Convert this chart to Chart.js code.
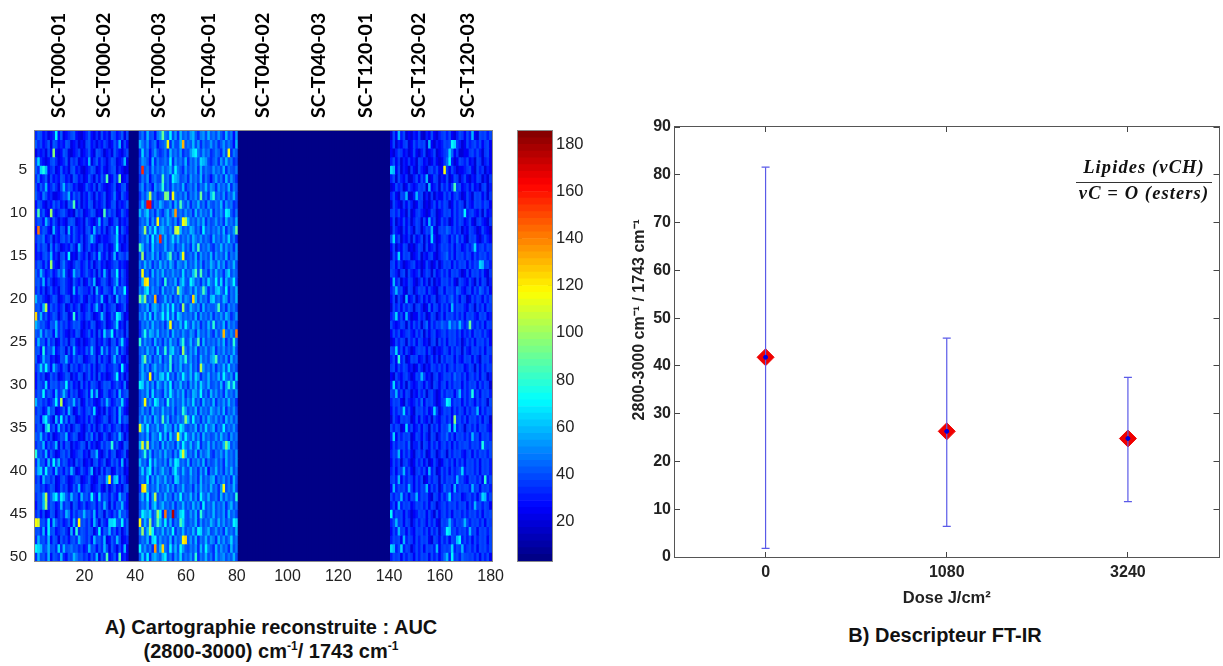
<!DOCTYPE html>
<html>
<head>
<meta charset="utf-8">
<title>AUC map and FT-IR descriptor</title>
<script src="https://cdn.jsdelivr.net/npm/chart.js@4"></script>
<style>
html, body { margin: 0; padding: 0; background: #fff; }
body { width: 1223px; height: 666px; position: relative; overflow: hidden; font-family: "Liberation Sans", Arial, sans-serif; color: #111; }
canvas { position: absolute; }
#mapChart, #barChart { filter: blur(0.45px); }
.caption { position: absolute; font-weight: bold; font-size: 20px; line-height: 24px; text-align: center; white-space: nowrap; }
.caption sup { font-size: 12px; line-height: 0; }
.formula { position: absolute; left: 1076px; top: 156px; width: 136px; font: italic bold 18.5px "Liberation Serif", serif; letter-spacing: 1.1px; line-height: 22px; text-align: center; white-space: nowrap; }
.formula div:first-child { border-bottom: 1.5px solid #333; padding-bottom: 4px; margin-bottom: -1px; }
</style>
</head>
<body>
<canvas id="mapChart" style="left:0;top:0" width="514" height="600"></canvas>
<canvas id="barChart" style="left:500px;top:0" width="90" height="600"></canvas>
<canvas id="doseChart" style="left:630px;top:0" width="598" height="608"></canvas>
<div class="caption" style="left:71px;top:615px;width:400px">A) Cartographie reconstruite : AUC<br>(2800-3000) cm<sup>-1</sup>/ 1743 cm<sup>-1</sup></div>
<div class="caption" style="left:745px;top:623px;width:400px">B) Descripteur FT-IR</div>
<div class="formula"><div>Lipides (vCH)</div><div>vC = O (esters)</div></div>
<script>
// spectra names on top of the map, and the column each one is written over
const sampleNames = ['SC-T000-01', 'SC-T000-02', 'SC-T000-03', 'SC-T040-01', 'SC-T040-02', 'SC-T040-03', 'SC-T120-01', 'SC-T120-02', 'SC-T120-03'];
const sampleCols = [9.6, 27.3, 49, 68.7, 90, 112, 130.5, 151.4, 170.7];
const colTicks = [20, 40, 60, 80, 100, 120, 140, 160, 180];
const rowTicks = [5, 10, 15, 20, 25, 30, 35, 40, 45, 50];
const barTicks = [20, 40, 60, 80, 100, 120, 140, 160, 180];
const valueMin = 3.3, valueMax = 185.5;
const emptyValue = 4; // dark columns of the map

// map values, one char per column, char = base36 digit x 5
// columns 1-37
const blockA = [
'8a978678e7 a6789a7657 8a76869786 a978a69','a8978a6a97 87a9678576 9a78687986 7a8c697','6878697j76 7a96578967 8a76a98578 6a87689','9d87679a86 78a6989678 7c68a79868 a9678c6','a8dfc78967 a7869a7865 78a9679768 9a68756',
'8b78a69787 a9786a9786 7a8697a8h6 7a8i678','97a8c78a86 9c8a978667 a8796a8767 8a679a6','a87b978667 8a9c7a8968 7a86978a67 8b76a87','7a97687a89 786a9h7968 7a96878a67 9a6878a','8h8a76k878 9a8675a896 78a9676h8a 8967a87',
'8a97c97a86 8769a96786 a8768c7a96 79a6878','7s8a976c87 a96c7a8786 9a7c8a7968 a8e6a87','8a9b78a687 9a8a7a8796 8aca768778 9ad7868','7a8a96b7a8 6787a86c96 8a7869a786 7ae8678','7879a8c786 9a7e676a87 968a7c8796 8c7a98a',
'8a97a7k876 9b8768a978 a7968a7867 89a7876','a8c978a78b 9c867c9a78 a8796a7c86 a9e7a86','9a8c7a8678 9a876a8796 7a8c679a86 8ac7986','8a7968a786 9a876c7a98 87a6c87a98 7c8a9e7','c9a8768a96 78a96878a7 6987a8c76a 86c8a97',
'9a8cl7a897 8a67978a67 8a79c86a78 9a678a6','p9c8a78a96 8a967g7a87 9a8678c967 a8ec967','cb9a87a9c8 a8978a9a76 87a9678a67 8ad7869','a9c8b9a7c8 a87687a967 8a796a7d9a e7a8969','8c9a7b8967 a8969a7686 78a9687a86 9a7ad87',
'9a7f8a9c78 a96a7c8787 a8c967c8b7 a9c7a86','a78c9a7867 a9c87a8a96 789a6a7986 9c8a768','8ad9ea7ca8 7a96a8978a 8a7968a978 8a97e87','7a8967a896 78a9687a96 8a796a7867 8ae7968','7a98d7a9a8 a9e8a786a7 97a9868a9a 78a87b6',
'8a9e8a97c8 9ca7a89678 a7d8c67a97 8a7c89a','c9a8978ae8 l78a9c8a67 a89767a8c9 78a9d87','8a978c9a67 8a7c967a87 9a8d7686a7 8a7c976','9a7cea86c8 e8b7a96787 97a8678a96 8a7c8a9','8a96cg8a7c 8a7968a976 8a7968a78a 78a9687',
'a9c8a79678 a9c78a9676 a8b7967a86 8a8c968','8a9c7a89c6 a7a96878a9 6a7867a8a9 g8a76a9','g9a8c7a867 9a8a6789a7 86a9c768a7 9a678a6','8c9a7c8e9c 8a9786a896 7869a78a67 a8a7c68','9cd8e9a7c8 97a8c967a8 79c686a7a9 67a8967',
'8a7c9a8a67 9a8678a967 8a767a98cn 8cd7a86','9a8978a967 a8967a8c78 a9678a7696 8a7869a','8a9cl8ace9 eca8c9a7c9 a8e97d8a97 a87c9a7','7a9ck8a978 c8a96a978a 789a7a8c96 a7a9c87','8a7967a968 a8cb7a8a9c 9a8c7a96a8 7a8c9a8',
'nm9a8e7ca8 978a7c8o9a 8a7c96a87d dea9e8a','9a8c7e9a78 9a86c7g8a9 8a968e7a9c 8a7968a','8c9a8c7a96 a8979a8ca9 8a7c9a8c67 a8c9678','edc9ac9a8d 8c9ab9a897 8c9a7a8c96 a8697c6','8c9a8c7a98 c87a9cb9a8 97a8c6a8h7 8a7h786'
];
// columns 42-80
const blockB = [
'8a7c896ab ia9e8b7c9a 8bc97ab8c9 a8b97c8a6b','ca8b79a68 9an7b88cq9 a9c8b7a89b 8a79b8a96c','7d8a69b87 8a7c9a8b79 8bdea8b9a7 8a97b8n7a9','8ba96c7a8 9a8e7b9a8c 7a9b8dcb87 9a7b8c9a78','8v9a7b8a9 b9ac8ea97b 8a9b7c8a98 b9a8c7a98a',
'7a8b69a88 h9a7ecb89a 7b9a8c7a86 9b8a7c8b97','9b7a86b9a g8a7b9a8c7 9a8b7a9c8b a7b9a8c7a9','7a8bl9a78 9ji7na9a8b 7a9b8i8a7c g9a8b7a9c8','8c9ww7a9c a89b7c9ha8 b7a9c8a7b9 8a9c7b9a78','c9bd8a7b9 7ac8br9a8b 9a7c8b9a8c 7a9b8ed97a',
'8a9c7b8n9 b9ca8b7anl c9a8b9c7a8 9b8a7c9a8c','9ak8c9e8b ca9b8lmc9a 9cb8a7e9a8 a9b8c7a9bi','8a9c7e9bv 9c8ad9c8a9 b8ca9b8a97 c9a8b9d8a7','hc8a7d9a8 9c8ab7a9c8 a7c9h8a9b8 7a9c8b9a7b','8k7a9c8b7 a9ch8a7bn8 9a8c7b9a8c 7b9a8c7a9b',
'a8c9b7a8c 9b8ca7ba9c 8a9c8b7a9c a8c9b7a9c8','8n9a7c8b9 c8a9b9a8d8 a9ch8h9a7b 8c9a7bd8a9','8cpo9a8b9 7g8a9c7bd9 8ec9a7b8da 9e8d7c9ae8','a9ce8b9a7 c8a9b8kca8 9b8c9ahb7a 8cda8e7a9c','icj8a9q78 9c8b7a8c8b a8pc8b9a7c d9a8cb7a9c',
'8a9c7bca8 c9d8e8a7k9 8ca9b7c8a9 9ah8a7b9a8','a9c8d7c9a e9e8c7db9a 9a8c7b9a8b 7a9b8ca79b','7a9b8c9a8 a7bn8a9c8e a8c9b7a8c9 g8a9c7b9a8','7af9cb9c8 a9b7c9a8b9 8ba7c9a8b9 7b8aqa9b9s','g8b9a7c8a 7b8c9a7bg8 9c8ah7c8a9 a8b9c7a8g9',
'9a8c9a7d8 9g8cd9a7ka 8b9c7a9b8a c7a9b8a9c8','8ci9b7a9c 7a9g8a9cag 9b8a7c9a8b ch9a8b7c9a','9c8b7ac9a 8b9g7a9c8a 9c8a7lb9a8 b7a9c8d9a8','9ca8n7b9c d9e8a7b9ea 9c8db7a9c8 a9c8ea9b7d','ed9c8b7ca 8c9e7a9c8a 7b9c8da9c8 9a8c7bgaf9',
'8a9c7d8a9 7c9ea8b9c7 a8cb9e8a7c 9b8a7c9a8b','8an9b8ec9 a7f9b8a9c8 b9d8a7c9a8 c7a9b8c9a7','9b8a7c9a8 c9a8b7a9gb 8a9c7b9a8c a9b8c7a9b8','a8c9b7ca8 h9c7a8b9aj c8e9a7b8ca 9b8a7c9b8a','mc9e8a9c8 9dab7c8ec9 8a9c7b8d9a c7a9e8a9b8',
'9a8c7ba9e 8c7d9anc9e a9c8b7c9a8 9b8c9a7b9a','cmal8b9a7 c8b9a7c8ea 9c8ad7a9c8 b8a9cjd8a9','9ag8c7a9b 8c9a7b8emc 9a8c7b9ac8 7a9b8c9a8b','c9a7e8c9a 8b7c9ed9a8 c7a9b8c7a8 9b8a7c9a8b','9d8ce7b8a c9a7bea8c9 8c9a7b8c6a 9c8a7b9c8a',
'9a8e7b8ca 9c8a7dc8a9 8b9a7c8a9b c7a9b8a7c9','7pob8a9c8 a9c8b7a9c8 9a7b8c9a8c 9a7bn8a9c8','9c8e7bl8a 8c9a7b9e8a 9c8b7ea9c8 9a7c8b9a8g','8a9c7bd8a c9a8b7a9c8 a8c9b7e8a9 c8a9b7ac8a','9ecbd8ake 7s9az8ade9 8b9c7ga8a9 c8a9b7c9a8',
'n8c9j8ahc 9e8c7a9hd9 8a9c7b8a9c a8c9b8a9ed','ak9cke8a9 c8b9e7a9c8 a9c8ed9ac8 9b8a7c9a8c','8a9c7de8b 9a8c7b9aop 9b8c7a9c8b a7c9b8ad9a','e9b8a7r9c pa8e9c8eb9 8a9b7c8ea9 7c8b9a7c8a','9d8e7bca9 ce8a7b9d8a 9b8g7a9c8a 7c9ab8a9c8'
];
// columns 141-180
const blockC = [
'6a7c8a6768 7a6587a768 9a8a768a97 a8c76a9a8a','7a6879a67a 8a9a6c7687 8a9aed9867 a89a8a79a7','768a97867a 768a678a67 89adb79667 79a8a869a7','8a79687978 6a97867976 79be867a98 a786a96897','dc7a687597 6a8769a8a7 7n97a86778 9a76a89687',
'8a6a879668 a7a8c67a96 87a67a968a 7687a96869','67a8967a87 8a9a6c7896 a8a7ah9a78 97a7869a68','8a76a9c668 c9a6869687 7a8a79a867 a86a9a7969','6a87697a86 7a96768a7a 8a967a8a96 a87a9a8a97','9a8a786a67 9a8767a967 8a9a7a8a9e 89a8796a78',
'7a687a7968 a96a7c8a67 a8967a8a97 8a769a8769','6a87697a86 a968a9c769 a9ba8a8968 7a9867a876','ad8a68796a 78a697d867 9a97a8b8a7 6a9a768a87','7a687a9676 8a96a78968 a9a8a7a978 a8ad89a8a9','6a8d7a9a67 8a6879a768 9ab8a7a9a8 a97a8a9a89',
'9a7a86789a 7867a86796 8a9a7a8a9a 7a8a9dc9a8','a9869a6a87 8a68a96a78 a8a7a9a867 a7a9a8a769','7c8a687a97 68a7969687 a9a8a76a98 7a86a7a968','8ac9a76a96 8a9a7a8769 a7a9a8ba87 9a7a8ba8a7','7a6a86c78a 68a7979a68 9a8ab8a7a9 67a8a97a8a',
'6a8a7a8a96 9a867b7a97 a8a7c8a9a8 7a96a8a7a9','8ad8a7c867 7a8967a968 a7a9a8a8a7 a9a87a9a78','a878a96a7a 8a69b7a8a9 ba9cab9ca8 ai98a8a7a9','7a8a789a87 a8a6979a78 9a8a9a8a79 8a7a9a8a87','67a8a96a8a 7a97869a6a 8a7a9a8968 a8a7a9a8a7',
'a9d8a7a867 9a9a7a8687 8a97a8a96a 87a9a8a7a9','8a7g8a67a9 a78968a796 a8a9a7a87a 9a7a86a9a8','9a7a8a9786 7a8687a98a 8a79a8a9a7 8a96a7a8a9','76a879a867 a9ca7869a7 8a9a8b9a8a 79a8a7a968','8d8a796a87 8a97a86a97 9a7a8a9a7a 8a9a7a8a96',
'a9c8a7a968 7a8a69a867 a8a9a7ac8a 8af8a7a9a8','8a9a76a878 a8b7a9a867 9aed8a9a7a 8a97a8a96a','7a8a9d8a76 a9a8a78d96 8a9a7a8a97 a8a9c7a8a9','6a87a9a967 a7a8796a87 9a8a7j9a8a 7a9a8a7a96','a8a967d8a7 8a7a96a8a7 a9ac7d8a96 9a8a7a9a87',
'8d7a8a9a67 a97a86a968 a9b8a7a9a8 a8c9a7a9a8','7a8a9a8b68 8a6a97a8a7 9a8a7a8a9a a8a9a8fa9a','8a9c7a8a76 9a8a67a968 a96a8a9a87 9a7a8a9a8a','7a8a69a867 a8a7967a86 79a8a7a8a7 a9a8a7a9a8','8a7a9c8a76 9a8a7c8a67 a8a7a89ad8 a9a8a7a9a8',
'9a8c7a8a97 a8a67a8a96 a8a9a8c9a8 7a9a8a7g8a','7c8a9a8c97 a8a9c7a8a6 8b9a7c8a9a a8c9a7a9a8','a8a9c8a7a9 c8a9a76a97 a8ad8a9a78 9a8a7adc8a','8a7c8a9a78 a9a8a7a968 9a8a9a8a9a 7a8c9a8a97','e8a9a7a867 8a9a7a86a7 9a8a7a9a8a 8a9a8a7a9a',
'8ac9a7a968 a8a97a8a76 a9aca8a9ac a8a9a8a7a9','7a8c9a7a87 a9a8a7a8a6 9aed9a8a9a 8c9a7a9a8a','8a9a7c8a97 a8a9a76a97 a8a7a9ce8a 8a7a8a9a7a','dc8ad8a968 a8a7a9a8c7 9a9ad8a9c8 9a8a7a9a8a','8a9a7a8a97 a8a9a7a8a7 9bc8e9a8ba a9a8a7a8a7'
];
// background level of each block sits lower than the chars above, hot spots do not move
const baselineA = 7, baselineB = 2, baselineC = 10;

// right panel
const doses = ['0', '1080', '3240'];
const doseMean = [41.8, 26.3, 24.8];
const doseLow = [1.8, 6.4, 11.6];
const doseHigh = [81.6, 45.8, 37.6];
const doseTicks = [0, 10, 20, 30, 40, 50, 60, 70, 80, 90];

function jet(v) {
  var t = (v - valueMin) / (valueMax - valueMin);
  t = Math.max(0, Math.min(0.9999, t));
  t = (Math.floor(t * 64) + 0.5) / 64; // 64 colour levels like the matlab colormap
  var ch = function (o) { return Math.round(255 * Math.max(0, Math.min(1, 1.5 - Math.abs(4 * t - o)))); };
  return 'rgb(' + ch(3) + ',' + ch(2) + ',' + ch(1) + ')';
}

function decode(str, baseline) {
  return str.replace(/ /g, '').split('').map(function (c) {
    var v = parseInt(c, 36) * 5;
    return v <= 55 ? v - baseline : v;
  });
}
function fill(n) {
  var out = [];
  for (var i = 0; i < n; i++) out.push(emptyValue);
  return out;
}

const colLabels = [];
for (var c = 1; c <= 180; c++) colLabels.push(String(c));

// one floating bar dataset per row of the map
const mapDatasets = blockA.map(function (_, r) {
  var values = decode(blockA[r], baselineA).concat(fill(4), decode(blockB[r], baselineB), fill(60), decode(blockC[r], baselineC));
  var row = r + 1;
  return {
    data: values.map(function () { return [row - 0.5, row + 0.5]; }),
    backgroundColor: values.map(jet),
    borderWidth: 0
  };
});

function setTicks(list) {
  return function (scale) { scale.ticks = list.map(function (v) { return { value: v }; }); };
}

const frame = {
  id: 'frame',
  beforeDatasetsDraw: function (chart, args, opts) {
    if (!opts.back) return;
    var a = chart.chartArea;
    chart.ctx.fillStyle = opts.back;
    chart.ctx.fillRect(a.left, a.top, a.width, a.height);
  },
  afterDraw: function (chart, args, opts) {
    var a = chart.chartArea, ctx = chart.ctx;
    ctx.save();
    ctx.strokeStyle = opts.color;
    ctx.lineWidth = 1;
    ctx.strokeRect(Math.round(a.left) - 0.5, Math.round(a.top) - 0.5, Math.round(a.width) + 1, Math.round(a.height) + 1);
    ctx.restore();
  }
};

Chart.defaults.font.family = '"Liberation Sans", Arial, sans-serif';
Chart.defaults.color = '#222';
Chart.defaults.animation = false;
Chart.defaults.responsive = false;
Chart.defaults.events = [];
Chart.defaults.plugins.legend.display = false;
Chart.defaults.plugins.tooltip.enabled = false;

new Chart(document.getElementById('mapChart'), {
  type: 'bar',
  data: { labels: colLabels, datasets: mapDatasets },
  plugins: [frame],
  options: {
    plugins: { frame: { color: '#8a8a8a', back: jet(emptyValue) } },
    datasets: { bar: { grouped: false, barPercentage: 1, categoryPercentage: 1 } },
    scales: {
      x: {
        type: 'category',
        afterBuildTicks: function (s) { s.ticks = colTicks.map(function (v) { return { value: v - 1 }; }); },
        afterFit: function (s) { s.height = 39; },
        grid: { drawOnChartArea: false, tickLength: -4, tickColor: '#222' },
        border: { display: false },
        ticks: { autoSkip: false, maxRotation: 0, padding: 10, font: { size: 16 } }
      },
      top: {
        type: 'linear', position: 'top', min: 0.5, max: 180.5,
        offset: false, // a bar chart turns offset on for every x axis
        afterBuildTicks: setTicks(sampleCols),
        afterFit: function (s) { s.height = 131; },
        grid: { display: false, tickLength: 0 },
        border: { display: false },
        ticks: {
          autoSkip: false, minRotation: 90, maxRotation: 90, padding: 13, labelOffset: 24,
          font: { size: 19.5, family: 'Lato', weight: 'bold' }, color: '#000',
          callback: function (v, i) { return sampleNames[i]; }
        }
      },
      y: {
        type: 'linear', reverse: true, min: 0.5, max: 50.5,
        afterBuildTicks: setTicks(rowTicks),
        afterFit: function (s) { s.width = 35; },
        grid: { drawOnChartArea: false, tickLength: -4, tickColor: '#222' },
        border: { display: false },
        ticks: { padding: 12, font: { size: 15.5 } }
      }
    }
  }
});

// colour bar, same levels as the map
const levels = [];
for (var l = 0; l < 64; l++) levels.push(valueMin + (valueMax - valueMin) * l / 64);
const levelStep = (valueMax - valueMin) / 64;

new Chart(document.getElementById('barChart'), {
  type: 'bar',
  data: {
    labels: ['c'],
    datasets: levels.map(function (lo) {
      return { data: [[lo, lo + levelStep]], backgroundColor: jet(lo + levelStep / 2), borderWidth: 0 };
    })
  },
  plugins: [frame],
  options: {
    plugins: { frame: { color: '#8a8a8a' } },
    layout: { padding: { left: 18, top: 131, bottom: 39 } },
    datasets: { bar: { grouped: false, barPercentage: 1, categoryPercentage: 1 } },
    scales: {
      x: { display: false },
      y: {
        position: 'right', min: valueMin, max: valueMax,
        afterBuildTicks: setTicks(barTicks),
        afterFit: function (s) { s.width = 38; },
        grid: { drawOnChartArea: false, tickLength: -4, tickColor: '#222' },
        border: { display: false },
        ticks: { padding: 8, font: { size: 16.5 } }
      },
      yLeft: {
        position: 'left', min: valueMin, max: valueMax,
        afterBuildTicks: setTicks(barTicks),
        afterFit: function (s) { s.width = 0; },
        grid: { drawOnChartArea: false, tickLength: -4, tickColor: '#222' },
        border: { display: false },
        ticks: { display: false }
      }
    }
  }
});

// error bars: a two point line with line caps for each dose
const errorBars = doses.map(function (d, i) {
  return {
    type: 'scatter', showLine: true,
    data: [{ x: i + 1, y: doseLow[i] }, { x: i + 1, y: doseHigh[i] }],
    borderColor: '#5a5ae8', borderWidth: 1.2,
    pointStyle: 'line', pointRadius: 4, pointBorderColor: '#5a5ae8', pointBorderWidth: 1.2
  };
});
const meanPoints = doses.map(function (d, i) { return { x: i + 1, y: doseMean[i] }; });

new Chart(document.getElementById('doseChart'), {
  type: 'scatter',
  data: {
    datasets: [
      { data: meanPoints, pointStyle: 'circle', pointRadius: 2, backgroundColor: '#0000e0', borderColor: '#0000e0' }
    ].concat(errorBars, [
      { data: meanPoints, pointStyle: 'rectRot', pointRadius: 8.5, backgroundColor: '#f00000', borderColor: '#f00000' }
    ])
  },
  plugins: [frame],
  options: {
    plugins: { frame: { color: '#555' } },
    scales: {
      x: {
        type: 'linear', min: 0.5, max: 3.5,
        afterBuildTicks: setTicks([1, 2, 3]),
        afterFit: function (s) { s.height = 51; },
        grid: { drawOnChartArea: false, tickLength: -5, tickColor: '#444' },
        border: { display: false },
        ticks: {
          padding: 11, font: { size: 16, weight: 'bold' },
          callback: function (v, i) { return doses[i]; }
        },
        title: { display: true, text: 'Dose J/cm\u00b2', font: { size: 16.5, weight: 'bold' }, padding: { top: 8, bottom: 0 } }
      },
      xTop: {
        type: 'linear', position: 'top', min: 0.5, max: 3.5,
        afterBuildTicks: setTicks([1, 2, 3]),
        afterFit: function (s) { s.height = 127; },
        grid: { drawOnChartArea: false, tickLength: -5, tickColor: '#444' },
        border: { display: false },
        ticks: { display: false }
      },
      y: {
        type: 'linear', min: 0, max: 90,
        afterBuildTicks: setTicks(doseTicks),
        afterFit: function (s) { s.width = 45; },
        grid: { drawOnChartArea: false, tickLength: -5, tickColor: '#444' },
        border: { display: false },
        ticks: { padding: 9, font: { size: 16, weight: 'bold' } },
        title: { display: true, text: '\u00a0\u00a0\u00a0\u00a0\u00a0\u00a0\u00a0\u00a0\u00a0\u00a02800-3000 cm\u207b\u00b9 / 1743 cm\u207b\u00b9', font: { size: 16, weight: 'bold' }, padding: 0 }
      },
      yRight: {
        type: 'linear', position: 'right', min: 0, max: 90,
        afterBuildTicks: setTicks(doseTicks),
        afterFit: function (s) { s.width = 0; },
        grid: { drawOnChartArea: false, tickLength: -5, tickColor: '#444' },
        border: { display: false },
        ticks: { display: false }
      }
    }
  }
});
</script>
</body>
</html>
